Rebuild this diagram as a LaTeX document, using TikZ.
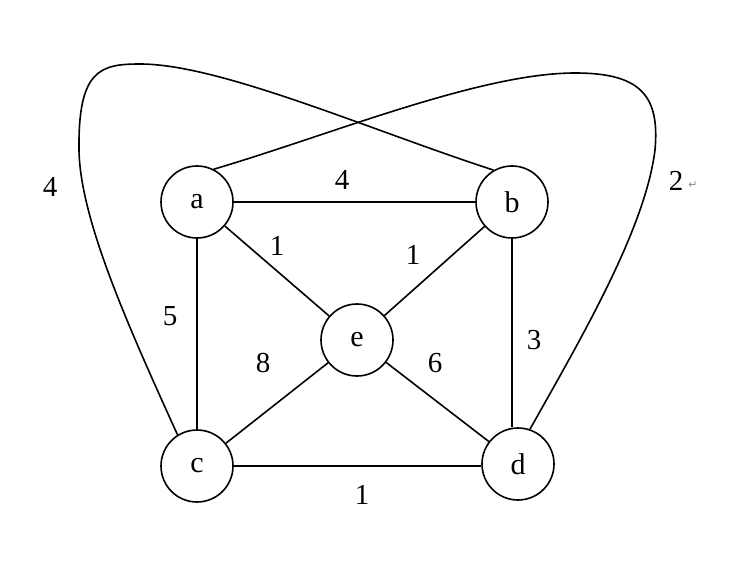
\documentclass[tikz,border=0pt]{standalone}
\usepackage{fontspec}
\setmainfont{Liberation Serif}
\newfontfamily\symfont{DejaVu Sans}
\usetikzlibrary{positioning}
\tikzset{
  % vertice del grafo
  vertex/.style={circle, draw=black, line width=1.6pt, minimum size=72pt,
    inner sep=0pt, font=\fontsize{30}{36}\selectfont},
  % lato (anche curvo)
  arco/.style={line width=1.6pt},
  % peso di un lato
  weight/.style={inner sep=0pt, font=\fontsize{29}{35}\selectfont},
  % segno di paragrafo
  parmark/.style={inner sep=0pt, text=black!45, font=\symfont\fontsize{11}{13}\selectfont},
}
\begin{document}
\begin{tikzpicture}[x=1pt, y=-1pt]
  \useasboundingbox (0,0) rectangle (739,588);
  \node[vertex] (a) at (197,202) {a};
  \node[vertex] (b) at (512,202) {b};
  \node[vertex] (e) at (357,340) {e};
  \node[vertex] (c) at (197,466) {c};
  \node[vertex] (d) at (518,464) {d};
  % lati diritti
  \draw[arco] (a) -- (b);
  \draw[arco] (a) -- (c);
  \draw[arco] (b) -- (b |- d.north);
  \draw[arco] (c) -- (c -| d.west);
  \draw[arco] (a) -- (e);
  \draw[arco] (b) -- (e);
  \draw[arco] (c) -- (e);
  \draw[arco] (d) -- (e);
  % lati curvi
  \draw[arco] (c.122) .. controls (130,330) and (80,220) .. (79,150)
    .. controls (78,70) and (100,64) .. (140,64)
    .. controls (220,64) and (370,130) .. (b.120);
  \draw[arco] (a.63) .. controls (330,135) and (480,73) .. (575,73)
    .. controls (640,73) and (660,95) .. (655,150)
    .. controls (645,230) and (580,340) .. (d.71);
  % pesi
  \node[weight] (w-cb) at (50,187) {4};
  \node[weight] (w-ad) at (676,181) {2};
  \node[parmark] (pm) at (693,185) {↵};
  \node[weight] (w-ab) at (342,180) {4};
  \node[weight] (w-ae) at (277,246) {1};
  \node[weight] (w-be) at (413,255) {1};
  \node[weight] (w-ac) at (170,316) {5};
  \node[weight] (w-bd) at (534,340) {3};
  \node[weight] (w-ce) at (263,363) {8};
  \node[weight] (w-de) at (435,363) {6};
  \node[weight] (w-cd) at (362,495) {1};
\end{tikzpicture}
\end{document}
